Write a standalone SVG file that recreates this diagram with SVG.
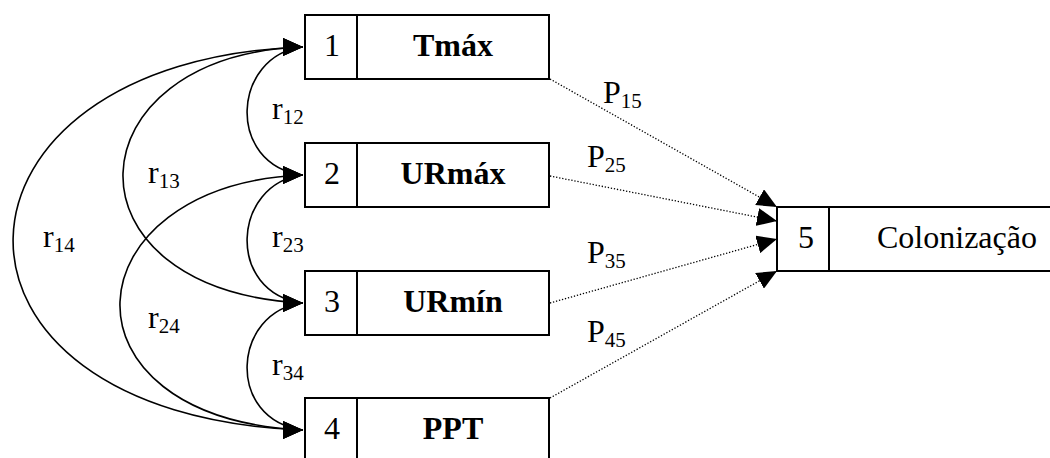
<svg xmlns="http://www.w3.org/2000/svg" width="1050" height="458" viewBox="0 0 1050 458">
<style>
.box{fill:#fff;stroke:#000;stroke-width:2}
.div{stroke:#000;stroke-width:2}
text{font-family:Liberation Serif,Tinos,Times New Roman,DejaVu Serif,serif;font-size:32px;fill:#000}
.b{font-weight:bold}
.sub{font-size:21px}
.curve{fill:none;stroke:#000;stroke-width:1.6;marker-start:url(#ah);marker-end:url(#ah)}
.dot{fill:none;stroke:#000;stroke-width:1.3;stroke-dasharray:1.3 1.8;marker-end:url(#ad)}
</style>
<defs>
<marker id="ah" viewBox="0 0 20 18" refX="20" refY="9" markerWidth="20" markerHeight="18" markerUnits="userSpaceOnUse" orient="0">
<path d="M0,0 L20,9 L0,18 Z" fill="#000"/>
</marker>
<marker id="ad" viewBox="0 0 20 18" refX="20" refY="9" markerWidth="20" markerHeight="18" markerUnits="userSpaceOnUse" orient="auto">
<path d="M0,0 L20,9 L0,18 Z" fill="#000"/>
</marker>
</defs>
<rect width="1050" height="458" fill="#fff"/>
<g id="connectors">
<path class="curve" d="M303,47 C232,55 225,165 303,175"/>
<path class="curve" d="M303,175 C232,183 225,293 303,303"/>
<path class="curve" d="M303,303 C232,311 225,420 303,430"/>
<path class="curve" d="M303,47 C70,55 56,290 303,303"/>
<path class="curve" d="M303,175 C68,185 50,418 303,430"/>
<path class="curve" d="M303,47 C-75,60 -92,415 303,430"/>
<path class="dot" d="M550,79 L777,207"/>
<path class="dot" d="M550,176 L777,221"/>
<path class="dot" d="M550,303 L777,239"/>
<path class="dot" d="M550,398 L777,271"/>
</g>
<g id="labels">
<text x="272" y="119">r<tspan class="sub" dy="5">12</tspan></text>
<text x="148" y="183">r<tspan class="sub" dy="5">13</tspan></text>
<text x="43" y="247">r<tspan class="sub" dy="5">14</tspan></text>
<text x="272" y="247">r<tspan class="sub" dy="5">23</tspan></text>
<text x="148" y="328">r<tspan class="sub" dy="5">24</tspan></text>
<text x="272" y="375">r<tspan class="sub" dy="5">34</tspan></text>
<text x="603" y="103">P<tspan class="sub" dy="5">15</tspan></text>
<text x="587" y="167">P<tspan class="sub" dy="5">25</tspan></text>
<text x="587" y="263">P<tspan class="sub" dy="5">35</tspan></text>
<text x="587" y="342">P<tspan class="sub" dy="5">45</tspan></text>
</g>
<g id="node1">
<rect class="box" x="305" y="15" width="244" height="64"/>
<line class="div" x1="357" y1="15" x2="357" y2="79"/>
<text x="332" y="56" text-anchor="middle">1</text>
<text class="b" x="453" y="56" text-anchor="middle">Tmáx</text>
</g>
<g id="node2">
<rect class="box" x="305" y="143" width="244" height="64"/>
<line class="div" x1="357" y1="143" x2="357" y2="207"/>
<text x="332" y="184" text-anchor="middle">2</text>
<text class="b" x="453" y="184" text-anchor="middle">URmáx</text>
</g>
<g id="node3">
<rect class="box" x="305" y="271" width="244" height="64"/>
<line class="div" x1="357" y1="271" x2="357" y2="335"/>
<text x="332" y="312" text-anchor="middle">3</text>
<text class="b" x="453" y="312" text-anchor="middle">URmín</text>
</g>
<g id="node4">
<rect class="box" x="305" y="398" width="244" height="64"/>
<line class="div" x1="357" y1="398" x2="357" y2="462"/>
<text x="332" y="439" text-anchor="middle">4</text>
<text class="b" x="453" y="439" text-anchor="middle">PPT</text>
</g>
<g id="node5">
<rect class="box" x="777" y="207" width="300" height="64"/>
<line class="div" x1="829" y1="207" x2="829" y2="271"/>
<text x="806" y="248" text-anchor="middle">5</text>
<text x="877" y="248">Colonização</text>
</g>
</svg>
